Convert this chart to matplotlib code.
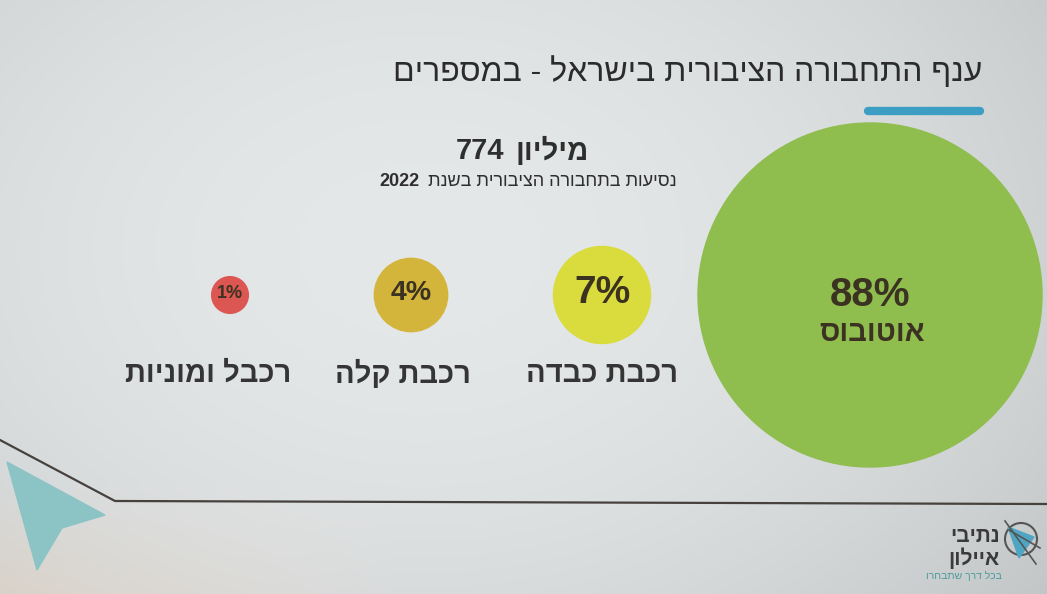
import numpy as np
import matplotlib.pyplot as plt
from matplotlib.patches import Circle, Polygon

plt.rcParams['font.family'] = ['Liberation Sans', 'DejaVu Sans']


def vis(s):
    # hebrew is right to left, matplotlib draws left to right
    return s[::-1]


title = 'ענף התחבורה הציבורית בישראל - במספרים'
total_value = '774'
total_unit = 'מיליון'
subtitle = 'נסיעות בתחבורה הציבורית בשנת'
year = '2022'

modes = ['אוטובוס', 'רכבת כבדה', 'רכבת קלה', 'רכבל ומוניות']
shares = [88, 7, 4, 1]
colors = ['#8fbd4e', '#d9dc3c', '#d4b53c', '#dc5652']

# layout
centers_x = [870, 602, 411, 230]
label_x = [872, 602, 403, 208]
pct_sizes = [29, 28, 20.5, 13]
center_y = 295

fig = plt.figure(figsize=(10.47, 5.94), dpi=100)
ax = fig.add_axes([0, 0, 1, 1])
ax.set_xlim(0, 1047)
ax.set_ylim(594, 0)
ax.axis('off')

# background, like a photographed slide
yy, xx = np.mgrid[0:594, 0:1047]
d = np.sqrt(((xx - 420) / 720.0) ** 2 + ((yy - 250) / 520.0) ** 2)
bg = np.clip(0.905 - 0.11 * d ** 2, 0, 1)
bg = np.dstack([bg - 0.008, bg + 0.004, bg + 0.008])
warm = np.clip((yy - 480) / 114.0, 0, 1) * np.clip((400 - xx) / 400.0, 0, 1)
bg[..., 0] += 0.04 * warm
bg[..., 2] -= 0.04 * warm
ax.imshow(np.clip(bg, 0, 1), extent=(0, 1047, 594, 0), zorder=0, aspect='auto')

# title
ax.text(982, 72, vis(title), ha='right', va='center', fontsize=23, color='#2b2b2b')
ax.plot([868, 980], [111, 111], color='#3b9ec2', lw=6, solid_capstyle='round')

# number on the left, hebrew word on the right (as on the slide)
ax.text(589, 151, vis(total_unit), ha='right', va='center',
        fontsize=21, fontweight='bold', color='#2e2e2e')
ax.text(456, 151, total_value, ha='left', va='center',
        fontsize=21, fontweight='bold', color='#2e2e2e')
ax.text(677, 182, vis(subtitle), ha='right', va='center', fontsize=13, color='#2e2e2e')
ax.text(419, 182, year, ha='right', va='center', fontsize=13, fontweight='bold', color='#2e2e2e')

# bubbles, area ~ share
k = 172 / np.sqrt(shares[0])
for i in range(len(modes)):
    r = k * np.sqrt(shares[i])
    ax.add_patch(Circle((centers_x[i], center_y), r, color=colors[i], zorder=2))
    if i == 0:
        ax.text(centers_x[i], center_y, str(shares[i]) + '%', ha='center', va='center',
                fontsize=pct_sizes[i], fontweight='bold', color='#3b3222', zorder=3)
        ax.text(label_x[i], center_y + 38, vis(modes[i]), ha='center', va='center',
                fontsize=21, fontweight='bold', color='#3b3222', zorder=3)
    else:
        ax.text(centers_x[i], center_y - 2, str(shares[i]) + '%', ha='center', va='center',
                fontsize=pct_sizes[i], fontweight='bold', color='#3b3222', zorder=3)
        ax.text(label_x[i], 374, vis(modes[i]), ha='center', va='center',
                fontsize=21, fontweight='bold', color='#353535', zorder=3)

# bottom decoration
ax.plot([0, 115, 1047], [440, 501, 504], color='#46413c', lw=1.6, zorder=2)
ax.add_patch(Polygon([[7, 462], [105, 515], [62, 528], [37, 570]], closed=True,
                     color='#8cc4c6', zorder=2))

# logo
ax.add_patch(Circle((1021, 539), 16, fill=False, ec='#555555', lw=1.5, zorder=3))
ax.add_patch(Polygon([[1008, 527], [1034, 537], [1019, 558]], closed=True,
                     color='#4fa6c4', zorder=3))
ax.plot([1005, 1036], [521, 564], color='#555555', lw=1.2, zorder=4)
ax.plot([1009, 1040], [530, 548], color='#555555', lw=1.2, zorder=4)
ax.text(1000, 537, vis('נתיבי'), ha='right', va='center', fontsize=15, fontweight='bold', color='#3a3a3a')
ax.text(1000, 558, vis('איילון'), ha='right', va='center', fontsize=15, fontweight='bold', color='#3a3a3a')
ax.text(1002, 576, vis('בכל דרך שתבחרו'), ha='right', va='center', fontsize=7.5, color='#4a9a9e')

fig.savefig('out.png', dpi=100)
